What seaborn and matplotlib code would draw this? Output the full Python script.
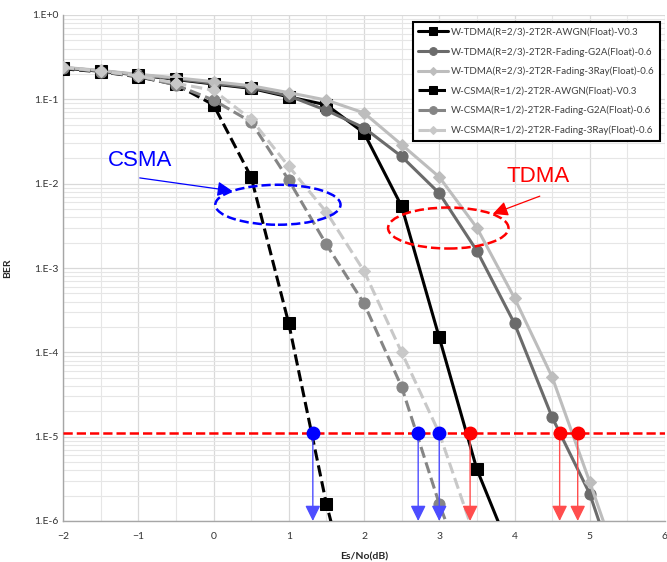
import numpy as np
import pandas as pd
import matplotlib
matplotlib.use("Agg")
import matplotlib.pyplot as plt
from matplotlib.patches import Ellipse
from matplotlib.ticker import FixedLocator, LogLocator, NullFormatter
import seaborn as sns

# Es/No (dB) sample points
snr_tdma = [-2, -1.5, -1, -0.5, 0, 0.5, 1, 1.5, 2, 2.5, 3, 3.5, 4, 4.5, 5, 5.5]
snr_tdma_awgn = [-2, -1.5, -1, -0.5, 0, 0.5, 1, 1.5, 2, 2.5, 3, 3.5, 4]
snr_csma_awgn = [-2, -1.5, -1, -0.5, 0, 0.5, 1, 1.5, 2]
snr_csma = [-2, -1.5, -1, -0.5, 0, 0.5, 1, 1.5, 2, 2.5, 3, 3.5]

# BER values
tdma_awgn = [0.235, 0.215, 0.195, 0.172, 0.152, 0.135, 0.107, 0.086, 0.040,
             5.4e-3, 1.5e-4, 4.1e-6, 3.3e-7]
tdma_g2a = [0.238, 0.218, 0.196, 0.175, 0.155, 0.138, 0.110, 0.074, 0.046,
            0.021, 7.7e-3, 1.6e-3, 2.2e-4, 1.7e-5, 2.1e-6, 1.0e-7]
tdma_3ray = [0.240, 0.220, 0.198, 0.180, 0.162, 0.145, 0.120, 0.098, 0.069,
             0.029, 0.012, 3.0e-3, 4.4e-4, 5.1e-5, 2.9e-6, 1.5e-7]
csma_awgn = [0.230, 0.212, 0.185, 0.150, 0.086, 0.012, 2.2e-4, 1.6e-6, 3.0e-8]
csma_g2a = [0.236, 0.213, 0.188, 0.148, 0.098, 0.054, 0.011, 1.9e-3, 3.8e-4,
            3.9e-5, 1.6e-6, 1.0e-7]
csma_3ray = [0.240, 0.216, 0.190, 0.155, 0.128, 0.058, 0.016, 4.6e-3, 9.2e-4,
             1.0e-4, 1.1e-5, 5.5e-7]

labels = ["W-TDMA(R=2/3)-2T2R-AWGN(Float)-V0.3",
          "W-TDMA(R=2/3)-2T2R-Fading-G2A(Float)-0.6",
          "W-TDMA(R=2/3)-2T2R-Fading-3Ray(Float)-0.6",
          "W-CSMA(R=1/2)-2T2R-AWGN(Float)-V0.3",
          "W-CSMA(R=1/2)-2T2R-Fading-G2A(Float)-0.6",
          "W-CSMA(R=1/2)-2T2R-Fading-3Ray(Float)-0.6"]

# crossing points at the target BER
ber_target = 1.1e-5
csma_cross = [1.32, 2.72, 3.0]
tdma_cross = [3.41, 4.6, 4.84]

sns.set_style("whitegrid")
plt.rcParams['font.family'] = ['Lato', 'DejaVu Sans']

fig = plt.figure(figsize=(6.67, 5.62), dpi=100)
ax = fig.add_axes([63/667, 41/562, 602/667, 506/562])

series = [
    (snr_tdma_awgn, tdma_awgn, 'black', 's', '-', 8),
    (snr_tdma, tdma_g2a, '#6b6b6b', 'o', '-', 8),
    (snr_tdma, tdma_3ray, '#bdbdbd', 'D', '-', 6),
    (snr_csma_awgn, csma_awgn, 'black', 's', '--', 8),
    (snr_csma, csma_g2a, '#858585', 'o', '--', 8),
    (snr_csma, csma_3ray, '#c8c8c8', 'D', '--', 6),
]
for (x, y, c, m, ls, ms), lab in zip(series, labels):
    d = pd.DataFrame({'snr': x, 'ber': y})
    sns.lineplot(data=d, x='snr', y='ber', ax=ax, color=c, marker=m,
                 linestyle=ls, linewidth=2.2, markersize=ms,
                 markeredgecolor=c, label=lab, zorder=3)

ax.set_yscale('log')
ax.set_xlim(-2, 6)
ax.set_ylim(1e-6, 1)

# target BER line and crossing markers
ax.axhline(ber_target, color='red', linestyle='--', linewidth=1.8, zorder=4)
for xc, col, lcol in [(v, '#0000ff', '#4d4dff') for v in csma_cross] + \
        [(v, '#ff0000', '#ff4d4d') for v in tdma_cross]:
    ax.annotate('', xy=(xc, 1e-6), xytext=(xc, ber_target),
                arrowprops=dict(arrowstyle='-|>,head_length=0.75,head_width=0.37',
                                color=lcol, lw=1, mutation_scale=12.5,
                                shrinkA=0, shrinkB=0), zorder=5)
    ax.plot([xc], [ber_target], 'o', color=col, markersize=9, zorder=6)

# group annotations
ax.text(-0.98, 0.019, 'CSMA', color='#0000ff', fontsize=16,
        family='Liberation Sans', ha='center', va='center')
ax.annotate('', xy=(0.25, 0.0082), xytext=(-0.98, 0.0117),
            arrowprops=dict(arrowstyle='-|>,head_length=0.75,head_width=0.37',
                            color='#0000ff', lw=0.9, mutation_scale=12,
                            shrinkA=0, shrinkB=0))
ax.add_patch(Ellipse((0.357, 0.625), 0.208, 0.079, transform=ax.transAxes,
                     fill=False, edgecolor='#0000ff', linestyle='--', lw=1.8, zorder=5))

ax.text(0.789, 0.68, 'TDMA', color='#ff0000', fontsize=16,
        family='Liberation Sans', ha='center', va='center', transform=ax.transAxes)
ax.annotate('', xy=(0.714, 0.607), xytext=(0.792, 0.642),
            xycoords='axes fraction', textcoords='axes fraction',
            arrowprops=dict(arrowstyle='-|>,head_length=0.75,head_width=0.37',
                            color='#ff0000', lw=0.9, mutation_scale=12,
                            shrinkA=0, shrinkB=0))
ax.add_patch(Ellipse((0.640, 0.579), 0.200, 0.081, transform=ax.transAxes,
                     fill=False, edgecolor='#ff0000', linestyle='--', lw=1.8, zorder=5))

# ticks and grid
ax.xaxis.set_major_locator(FixedLocator(range(-2, 7)))
ax.xaxis.set_minor_locator(FixedLocator(np.arange(-1.5, 6, 1.0)))
ax.yaxis.set_major_locator(FixedLocator([10.0**k for k in range(-6, 1)]))
ax.yaxis.set_minor_locator(LogLocator(base=10, subs=np.arange(2, 10)))
ax.yaxis.set_minor_formatter(NullFormatter())
ax.set_yticklabels(['1.E-6', '1.E-5', '1.E-4', '1.E-3', '1.E-2', '1.E-1', '1.E+0'])
ax.grid(True, which='major', color='#d9d9d9', linewidth=0.9)
ax.grid(True, which='minor', color='#e6e6e6', linewidth=0.8)
ax.tick_params(axis='both', which='both', length=0, labelsize=7.5, colors='#333333')
ax.tick_params(axis='x', pad=8)
for s in ['top', 'right']:
    ax.spines[s].set_visible(False)
for s in ['left', 'bottom']:
    ax.spines[s].set_color('#a6a6a6')
    ax.spines[s].set_linewidth(1)

ax.set_xlabel('Es/No(dB)', fontsize=7.5, fontweight='bold', labelpad=8)
ax.set_ylabel('BER', fontsize=7.5, fontweight='bold', labelpad=14)

leg = ax.legend(loc='upper right', bbox_to_anchor=(660/667, 1 - 22/562),
                bbox_transform=fig.transFigure, borderaxespad=0, fontsize=7,
                frameon=True, fancybox=False, edgecolor='black', framealpha=1,
                labelspacing=1.05, handlelength=3.0, handletextpad=0.3,
                borderpad=0.6, markerscale=0.7)
leg.get_frame().set_linewidth(1.5)
for t in leg.get_texts():
    t.set_color('#404040')

fig.savefig('out.png', dpi=100)
